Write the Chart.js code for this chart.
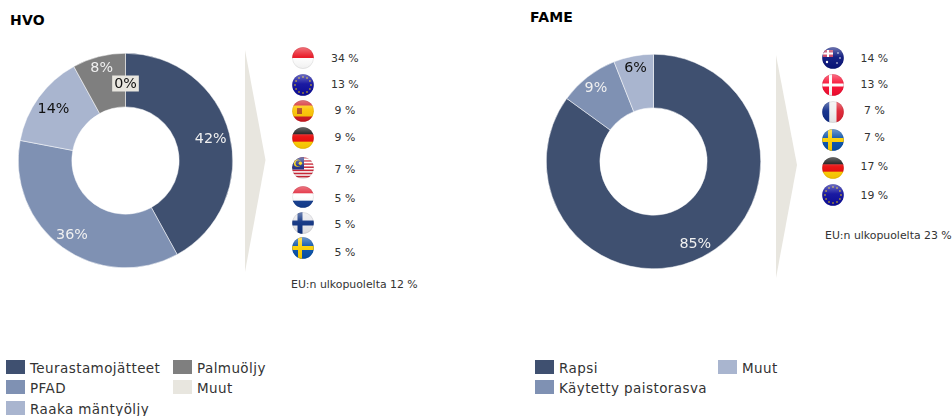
<!DOCTYPE html>
<html lang="fi">
<head>
<meta charset="utf-8">
<title>HVO ja FAME raaka-aineet</title>
<script src="https://cdn.jsdelivr.net/npm/chart.js@4/dist/chart.umd.min.js"></script>
<style>
  html, body { margin: 0; padding: 0; background: #fff; }
  body { position: relative; width: 952px; height: 416px; overflow: hidden; font-family: "DejaVu Sans", sans-serif; color: #333; }
  .title { position: absolute; font-weight: bold; font-size: 14px; line-height: 16px; letter-spacing: 0.2px; color: #000; }
  .donut { position: absolute; width: 215px; height: 215px; }
  .arrow { position: absolute; }
  .flag { position: absolute; width: 22px; height: 22px; }
  .share { position: absolute; font-size: 10.9px; line-height: 14px; white-space: nowrap; }
  .swatch { position: absolute; width: 19px; height: 14px; }
  .legend-label { position: absolute; font-size: 13.5px; line-height: 16px; letter-spacing: 0.42px; white-space: nowrap; color: #333; }
</style>
</head>
<body>
<div class="title" style="left:10px;top:12px">HVO</div>
<div class="title" style="left:530px;top:9px">FAME</div>
<canvas id="hvo-chart" class="donut" style="left:18px;top:53px" width="215" height="215"></canvas>
<canvas id="fame-chart" class="donut" style="left:546px;top:54px" width="215" height="215"></canvas>
<svg class="arrow" style="left:245px;top:50px" width="21" height="223"><polygon points="0,0 20.5,110 0,222" fill="#e8e6df"/></svg>
<svg class="arrow" style="left:776px;top:55px" width="22" height="224"><polygon points="0,0 21,110 0,223" fill="#e8e6df"/></svg>
<div id="hvo-origins"></div>
<div id="fame-origins"></div>
<div id="hvo-legend"></div>
<div id="fame-legend"></div>

<script>
// === Feedstock doughnuts ===

var DARK = '#3f5070';
var MID = '#7f91b3';
var LIGHT = '#a9b5cf';
var GREY = '#7f7f7f';
var SAND = '#e8e6df';

var hvoCategories = ['Teurastamojätteet', 'PFAD', 'Raaka mäntyöljy', 'Palmuöljy', 'Muut'];
var hvoValues = [42, 36, 14, 8, 0];
var hvoColors = [DARK, MID, LIGHT, GREY, SAND];

var fameCategories = ['Rapsi', 'Käytetty paistorasva', 'Muut'];
var fameValues = [85, 9, 6];
var fameColors = [DARK, MID, LIGHT];

var hvoFlags = ['id', 'eu', 'es', 'de', 'my', 'nl', 'fi', 'se'];
var hvoShares = [34, 13, 9, 9, 7, 5, 5, 5];
var hvoOutsideEu = 12;

var fameFlags = ['au', 'dk', 'fr', 'se', 'de', 'eu'];
var fameShares = [14, 13, 7, 7, 17, 19];
var fameOutsideEu = 23;

// Percent labels sit at slightly different depths in each ring
var percentLabels = {
  id: 'percentLabels',
  afterDatasetsDraw: function(chart, args, opts) {
    var ctx = chart.ctx;
    var arcs = chart.getDatasetMeta(0).data;
    var values = chart.data.datasets[0].data;
    ctx.save();
    ctx.font = '14.3px "DejaVu Sans", sans-serif';
    ctx.textAlign = 'center';
    ctx.textBaseline = 'middle';
    arcs.forEach(function(arc, i) {
      var mid = (arc.startAngle + arc.endAngle) / 2;
      var x = arc.x + Math.cos(mid) * opts.radii[i];
      var y = arc.y + Math.sin(mid) * opts.radii[i];
      var text = values[i] + '%';
      if (opts.boxed[i]) {
        var w = ctx.measureText(text).width + 4;
        ctx.fillStyle = chart.data.datasets[0].backgroundColor[i];
        ctx.fillRect(x - w / 2, y - 8, w, 16);
      }
      ctx.fillStyle = opts.colors[i];
      ctx.fillText(text, x, y + 1);
    });
    ctx.restore();
  }
};

function renderDonut(canvasId, labels, values, colors, labelOpts) {
  new Chart(document.getElementById(canvasId), {
    type: 'doughnut',
    data: {
      labels: labels,
      datasets: [{
        data: values,
        backgroundColor: colors,
        borderColor: '#ffffff',
        borderWidth: 0.5
      }]
    },
    options: {
      responsive: false,
      animation: false,
      cutout: '50%',
      layout: { padding: 0 },
      plugins: {
        legend: { display: false },
        tooltip: { enabled: false },
        percentLabels: labelOpts
      }
    },
    plugins: [percentLabels]
  });
}

renderDonut('hvo-chart', hvoCategories, hvoValues, hvoColors, {
  radii: [88, 91, 89, 96, 77],
  colors: ['#f0f0f0', '#f0f0f0', '#111', '#f0f0f0', '#111'],
  boxed: [false, false, false, false, true]
});
renderDonut('fame-chart', fameCategories, fameValues, fameColors, {
  radii: [92, 94, 96],
  colors: ['#f0f0f0', '#f0f0f0', '#111'],
  boxed: [false, false, false]
});

// === Country flags ===

function stars(n, r, dot) {
  var s = '';
  for (var i = 0; i < n; i++) {
    var a = i / n * Math.PI * 2;
    s += '<circle cx="' + (11 + Math.cos(a) * r) + '" cy="' + (11 + Math.sin(a) * r) + '" r="' + dot + '" fill="#f5d000"/>';
  }
  return s;
}

function hBands(colors) {
  var h = 22 / colors.length, s = '';
  colors.forEach(function(c, i) {
    s += '<rect x="0" y="' + (i * h) + '" width="22" height="' + (h + 0.5) + '" fill="' + c + '"/>';
  });
  return s;
}

function malaysiaBands() {
  var s = '<rect width="22" height="22" fill="#fff"/>';
  for (var i = 0; i < 7; i++) {
    s += '<rect x="0" y="' + (i * 3.14) + '" width="22" height="1.57" fill="#cc2233"/>';
  }
  return s + '<rect width="12" height="12.5" fill="#1a2a80"/>' +
    '<circle cx="5.5" cy="6.2" r="3.6" fill="#f5d000"/><circle cx="6.6" cy="6.2" r="3" fill="#1a2a80"/>' +
    '<circle cx="8.4" cy="6.2" r="1.7" fill="#f5d000"/>';
}

var flagArt = {
  id: hBands(['#e8101e', '#ffffff']),
  nl: hBands(['#e0182c', '#ffffff', '#123c90']),
  de: hBands(['#000000', '#e80808', '#ffcc00']),
  es: hBands(['#d01820', '#fcc400', '#fcc400', '#d01820']) + '<rect x="5" y="8" width="5" height="6" fill="#b04a20"/>',
  eu: '<rect width="22" height="22" fill="#0c0c9c"/>' + stars(12, 8, 0.8),
  fi: '<rect width="22" height="22" fill="#e8e8ec"/><rect x="5.5" width="5" height="22" fill="#0c3080"/><rect y="8.5" width="22" height="5" fill="#0c3080"/>',
  se: '<rect width="22" height="22" fill="#0650aa"/><rect x="6" width="4" height="22" fill="#fcd000"/><rect y="9" width="22" height="4" fill="#fcd000"/>',
  dk: '<rect width="22" height="22" fill="#f80c30"/><rect x="7" width="3" height="22" fill="#fff"/><rect y="9.5" width="22" height="3" fill="#fff"/>',
  fr: '<rect width="7.5" height="22" fill="#0c2a88"/><rect x="7.5" width="7" height="22" fill="#f0f0f0"/><rect x="14.5" width="7.5" height="22" fill="#dd2030"/>',
  au: '<rect width="22" height="22" fill="#08147c"/><rect x="1" y="3" width="10" height="7" fill="#c84060"/>' +
    '<rect x="5" y="3" width="2" height="7" fill="#fff"/><rect x="1" y="5.5" width="10" height="2" fill="#fff"/>' +
    '<circle cx="16" cy="6" r="0.8" fill="#fff"/><circle cx="18" cy="11" r="0.8" fill="#fff"/><circle cx="15" cy="16" r="0.8" fill="#fff"/><circle cx="5" cy="15" r="1.2" fill="#fff"/>'
};
flagArt.my = malaysiaBands();

var flagCount = 0;

// Round flag with a soft highlight across the upper half
function flagSvg(code, x, y) {
  var id = 'f' + (flagCount++);
  return '<svg class="flag" style="left:' + (x - 11) + 'px;top:' + (y - 11) + 'px" viewBox="0 0 22 22">' +
    '<defs><clipPath id="c' + id + '"><circle cx="11" cy="11" r="10.8"/></clipPath>' +
    '<linearGradient id="g' + id + '" x1="0" y1="0" x2="0" y2="1">' +
    '<stop offset="0" stop-color="#fff" stop-opacity="0.42"/><stop offset="0.45" stop-color="#fff" stop-opacity="0.06"/>' +
    '<stop offset="1" stop-color="#000" stop-opacity="0.06"/></linearGradient></defs>' +
    '<g clip-path="url(#c' + id + ')">' + flagArt[code] + '<rect width="22" height="22" fill="url(#g' + id + ')"/></g>' +
    '<circle cx="11" cy="11" r="10.5" fill="none" stroke="#000" stroke-opacity="0.07"/></svg>';
}

function renderOrigins(elId, flags, shares, flagX, flagYs, textX, textYs, outsideEu, outX, outY) {
  var html = '';
  flags.forEach(function(code, i) {
    var label = shares[i] + ' %';
    var tx = textX + (shares[i] < 10 ? 3.5 : 0);
    html += flagSvg(code, flagX, flagYs[i]);
    html += '<div class="share" style="left:' + tx + 'px;top:' + (textYs[i] - 6) + 'px">' + label + '</div>';
  });
  html += '<div class="share" style="left:' + outX + 'px;top:' + (outY - 6) + 'px">EU:n ulkopuolelta ' + outsideEu + ' %</div>';
  document.getElementById(elId).innerHTML = html;
}

renderOrigins('hvo-origins', hvoFlags, hvoShares, 303,
  [58, 85, 111, 138, 168, 197, 223, 248], 331,
  [58, 84, 110, 137, 169, 198, 224, 252], hvoOutsideEu, 291, 284);
renderOrigins('fame-origins', fameFlags, fameShares, 833,
  [58, 85, 112, 140, 168, 195], 860.5,
  [58, 84, 110, 137, 166, 195], fameOutsideEu, 825, 235);

// === Legends ===

function renderLegend(elId, labels, colors, slots) {
  var html = '';
  labels.forEach(function(label, i) {
    var s = slots[i];
    html += '<div class="swatch" style="left:' + s[0] + 'px;top:' + s[1] + 'px;background:' + colors[i] + '"></div>';
    html += '<div class="legend-label" style="left:' + (s[0] + 24) + 'px;top:' + s[1] + 'px">' + label + '</div>';
  });
  document.getElementById(elId).innerHTML = html;
}

renderLegend('hvo-legend', hvoCategories, hvoColors,
  [[6, 360], [6, 380], [6, 401], [173, 360], [173, 380]]);
renderLegend('fame-legend', fameCategories, fameColors,
  [[535, 360], [535, 380], [718, 360]]);
</script>
</body>
</html>
